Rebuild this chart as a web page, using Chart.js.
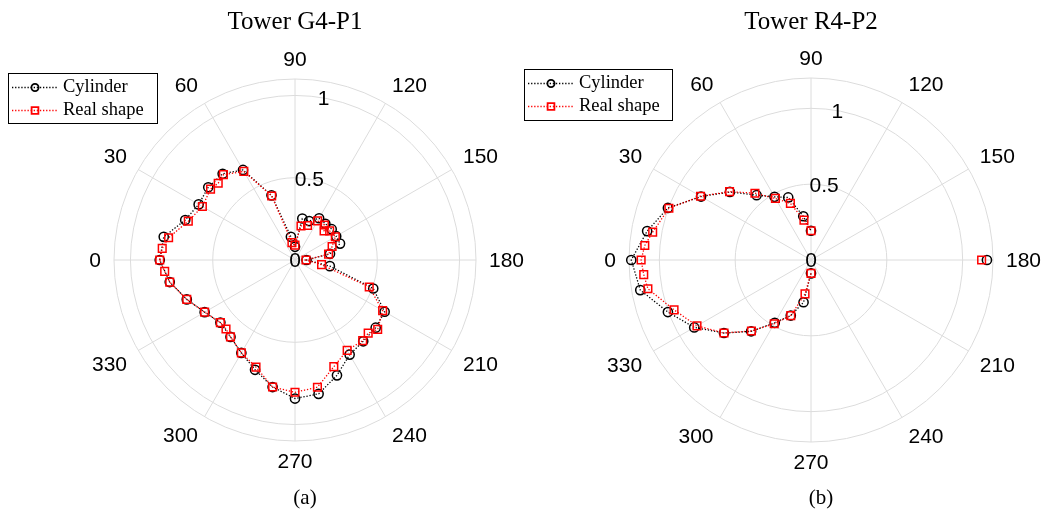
<!DOCTYPE html>
<html>
<head>
<meta charset="utf-8">
<title>Tower polar plots</title>
<script src="https://cdn.jsdelivr.net/npm/chart.js@4.4.1/dist/chart.umd.min.js"></script>
<style>
  html, body { margin: 0; padding: 0; background: #ffffff; }
  #wrap { position: relative; width: 1041px; height: 517px; overflow: hidden; }
  #wrap canvas { position: absolute; left: 0; top: 0; }
</style>
</head>
<body>
<div id="wrap">
  <canvas id="g4" width="1041" height="517"></canvas>
  <canvas id="r4" width="1041" height="517"></canvas>
</div>
<script>
// Direction in degrees: 0 on the left, increasing clockwise, 5 degree steps
const ANGLES = [0,5,10,15,20,25,30,35,40,45,50,55,60,65,70,75,80,85,90,95,100,105,110,115,
  120,125,130,135,140,145,150,155,160,165,170,175,180,185,190,195,200,205,210,215,220,225,230,235,
  240,245,250,255,260,265,270,275,280,285,290,295,300,305,310,315,320,325,330,335,340,345,350,355];
const ANGLE_TICKS = [0,30,60,90,120,150,180,210,240,270,300,330];
const RADIAL_TICKS = [0, 0.5, 1];
const RADIAL_TICK_ANGLE = 100;
const SERIES_NAMES = ['Cylinder', 'Real shape'];

// Tower G4-P1
const g4CylinderAngles = [0,10,20,30,40,50,60,70,80,90,100,110,120,130,140,150,160,170,
  180,190,200,210,220,230,240,250,260,270,280,290,300,310,320,330,340,350];
const g4CylinderValues = [0.822,0.81,0.71,0.676,0.688,0.684,0.632,0.418,0.143,0.08,0.256,0.252,0.293,0.287,0.291,0.289,0.291,0.216,
  0.07,0.215,0.506,0.629,0.64,0.645,0.664,0.746,0.826,0.842,0.784,0.71,0.652,0.61,0.592,0.634,0.70,0.773];
const g4RealAngles = [0,5,10,20,30,40,45,50,60,70,80,90,100,110,120,130,135,140,150,160,
  170,180,190,200,210,220,225,230,240,250,260,270,280,290,300,310,315,320,330,340,350,355];
const g4RealValues = [0.822,0.81,0.78,0.69,0.65,0.67,0.66,0.677,0.622,0.414,0.107,0.09,0.21,0.223,0.275,0.278,0.25,0.275,0.283,0.24,
  0.207,0.067,0.164,0.48,0.615,0.656,0.629,0.64,0.634,0.69,0.785,0.804,0.784,0.693,0.652,0.61,0.593,0.592,0.634,0.70,0.773,0.795];

// Tower R4-P2 (front arc plus a single reading at 180)
const r4CylinderAngles = [270,280,290,300,310,320,330,340,350,0,10,20,30,40,50,60,70,80,90];
const r4CylinderValues = [0.088,0.283,0.39,0.478,0.614,0.749,0.889,1.004,1.143,1.185,1.097,1.004,0.837,0.698,0.558,0.481,0.439,0.293,0.193];
const r4RealAngles = [270,280,290,300,310,320,330,340,350,355,0,5,10,20,30,40,50,60,70,80,90];
const r4RealValues = [0.088,0.227,0.39,0.485,0.611,0.749,0.868,0.961,1.092,1.107,1.12,1.10,1.06,0.997,0.841,0.701,0.575,0.469,0.397,0.267,0.193];
const r4CylinderSideAngles = [180];
const r4CylinderSideValues = [1.16];
const r4RealSideAngles = [180];
const r4RealSideValues = [1.125];

const GRID_COLOR = '#dcdcdc';
const SANS = '"Liberation Sans", Arial, sans-serif';
const SERIF = '"Liberation Serif", "Times New Roman", serif';
const DOTS = [1.3, 1.8];

const STYLES = {
  'Cylinder':   { color: '#000000', pointStyle: 'circle', pointRadius: 4.6, legendRadius: 3.6, order: 1 },
  'Real shape': { color: '#ff0000', pointStyle: 'rect',   pointRadius: 5.4, legendRadius: 4.8, order: 0 }
};

// Spread a sparse (angle, value) series over the chart's category list
function series(name, labels, angles, values, extra) {
  const s = STYLES[name];
  return Object.assign({
    label: name,
    data: labels.map(a => { const i = angles.indexOf(a); return i < 0 ? null : values[i]; }),
    borderColor: s.color,
    borderWidth: 1.3,
    borderDash: DOTS,
    backgroundColor: 'rgba(0,0,0,0)',
    fill: false,
    tension: 0,
    spanGaps: true,
    clip: false,
    pointStyle: s.pointStyle,
    pointRadius: s.pointRadius,
    pointHoverRadius: s.pointRadius,
    pointBorderWidth: 1.5,
    pointBorderColor: s.color,
    pointBackgroundColor: 'rgba(0,0,0,0)',
    order: s.order
  }, extra || {});
}

// Radar lines are closed loops; datasets flagged openPath are left open
const openPathPlugin = {
  id: 'openPath',
  afterDatasetUpdate(chart, args) {
    const ds = chart.data.datasets[args.index];
    const line = args.meta && args.meta.dataset;
    if (ds && ds.openPath && line) {
      line._loop = false;
      delete line._segments;
      delete line._path;
    }
  }
};

// Angle labels, radius labels, title, caption and legend box
const decorPlugin = {
  id: 'decor',
  afterDraw(chart, args, o) {
    const ctx = chart.ctx;
    const scale = chart.scales.r;
    const labels = chart.data.labels.map(Number);
    ctx.save();
    ctx.fillStyle = '#000';
    ctx.textBaseline = 'alphabetic';

    ctx.font = o.numberFont;
    ANGLE_TICKS.forEach(a => {
      const p = scale.getPointPosition(labels.indexOf(a), scale.drawingArea + o.labelGap);
      const txt = String(a);
      const asc = ctx.measureText(txt).actualBoundingBoxAscent;
      const dir = (a + 270) % 360;
      let align = 'center';
      if (dir !== 0 && dir !== 180) align = dir < 180 ? 'left' : 'right';
      let y = p.y;
      if (dir === 90 || dir === 270) y += asc / 2;
      else if (dir > 90 && dir < 270) y += asc;
      ctx.textAlign = align;
      ctx.fillText(txt, p.x, y);
    });

    const tIdx = labels.indexOf(RADIAL_TICK_ANGLE);
    RADIAL_TICKS.forEach(v => {
      const p = scale.getPointPosition(tIdx, scale.getDistanceFromCenterForValue(v));
      const txt = String(v);
      const asc = ctx.measureText(txt).actualBoundingBoxAscent;
      ctx.textAlign = 'center';
      ctx.fillText(txt, p.x, p.y + asc / 2);
    });

    ctx.font = o.titleFont;
    ctx.textAlign = 'center';
    ctx.fillText(o.title, scale.xCenter, o.titleBaseline);
    ctx.font = o.captionFont;
    ctx.fillText(o.caption, scale.xCenter + o.captionDx, o.captionBaseline);

    const L = o.legend;
    ctx.strokeStyle = '#000';
    ctx.lineWidth = 1;
    ctx.setLineDash([]);
    ctx.strokeRect(L.x + 0.5, L.y + 0.5, L.w, L.h);
    SERIES_NAMES.forEach((name, k) => {
      const ds = chart.data.datasets.find(d => d.label === name);
      const st = STYLES[name];
      const yy = L.y + L.rowY[k];
      ctx.save();
      ctx.strokeStyle = ds.borderColor;
      ctx.lineWidth = ds.borderWidth;
      ctx.setLineDash(ds.borderDash);
      ctx.beginPath();
      ctx.moveTo(L.x + L.lineX0, yy);
      ctx.lineTo(L.x + L.lineX1, yy);
      ctx.stroke();
      ctx.restore();

      ctx.save();
      ctx.strokeStyle = ds.pointBorderColor;
      ctx.fillStyle = 'rgba(0,0,0,0)';
      ctx.lineWidth = 1.8;
      Chart.helpers.drawPoint(ctx, { pointStyle: ds.pointStyle, radius: st.legendRadius, borderWidth: 1.8, rotation: 0 },
        L.x + (L.lineX0 + L.lineX1) / 2, yy);
      ctx.restore();

      ctx.fillStyle = '#000';
      ctx.font = o.legendFont;
      ctx.textAlign = 'left';
      ctx.fillText(name, L.x + L.textX, yy + L.textDy);
    });
    ctx.restore();
  }
};

function radialScale(labels, startAngle, max, gridValues) {
  return {
    type: 'radialLinear',
    min: 0,
    max: max,
    startAngle: startAngle,
    afterBuildTicks: s => { s.ticks = gridValues.map(v => ({ value: v })); },
    ticks: { display: false },
    pointLabels: { display: false },
    grid: { circular: true, color: GRID_COLOR, lineWidth: 1 },
    angleLines: {
      display: true,
      color: GRID_COLOR,
      lineWidth: c => (ANGLE_TICKS.includes(Number(c.label)) ? 1 : 0)
    }
  };
}

function makeChart(id, labels, datasets, scaleOpts, padding, decor) {
  return new Chart(document.getElementById(id), {
    type: 'radar',
    data: { labels: labels, datasets: datasets },
    options: {
      responsive: false,
      maintainAspectRatio: false,
      animation: false,
      devicePixelRatio: 1,
      events: [],
      layout: { padding: padding },
      scales: { r: scaleOpts },
      plugins: {
        legend: { display: false },
        tooltip: { enabled: false },
        title: { display: false },
        decor: decor
      }
    },
    plugins: [openPathPlugin, decorPlugin]
  });
}

const commonDecor = {
  numberFont: '21px ' + SANS,
  titleFont: '25px ' + SERIF,
  captionFont: '21px ' + SERIF,
  legendFont: '18.5px ' + SERIF,
  labelGap: 13,
  titleBaseline: 29,
  captionBaseline: 504,
  captionDx: 10
};

// (a) Tower G4-P1: full loop, 0 degrees on the left
const g4Labels = ANGLES.slice();
makeChart('g4', g4Labels, [
  series('Cylinder', g4Labels, g4CylinderAngles, g4CylinderValues),
  series('Real shape', g4Labels, g4RealAngles, g4RealValues)
], radialScale(g4Labels, -90, 1.1, [0, 0.5, 1, 1.1]),
  { left: 114, right: 565, top: 79, bottom: 76 },
  Object.assign({}, commonDecor, {
    title: 'Tower G4-P1',
    caption: '(a)',
    legend: { x: 8, y: 73, w: 149, h: 50, rowY: [14.5, 37.5], lineX0: 4, lineX1: 50, textX: 55, textDy: 4.5 }
  }));

// (b) Tower R4-P2: categories start at 180 so the open arc runs 270 -> 0 -> 90
const r4Labels = ANGLES.slice(36).concat(ANGLES.slice(0, 36));
makeChart('r4', r4Labels, [
  series('Cylinder', r4Labels, r4CylinderAngles, r4CylinderValues, { openPath: true }),
  series('Real shape', r4Labels, r4RealAngles, r4RealValues, { openPath: true }),
  series('Cylinder', r4Labels, r4CylinderSideAngles, r4CylinderSideValues, { showLine: false }),
  series('Real shape', r4Labels, r4RealSideAngles, r4RealSideValues, { showLine: false })
], radialScale(r4Labels, 90, 1.2, [0, 0.5, 1, 1.2]),
  { left: 629, right: 48, top: 78, bottom: 75 },
  Object.assign({}, commonDecor, {
    title: 'Tower R4-P2',
    caption: '(b)',
    legend: { x: 524, y: 69, w: 148, h: 51, rowY: [14.5, 37.5], lineX0: 4, lineX1: 50, textX: 55, textDy: 4.5 }
  }));
</script>
</body>
</html>
